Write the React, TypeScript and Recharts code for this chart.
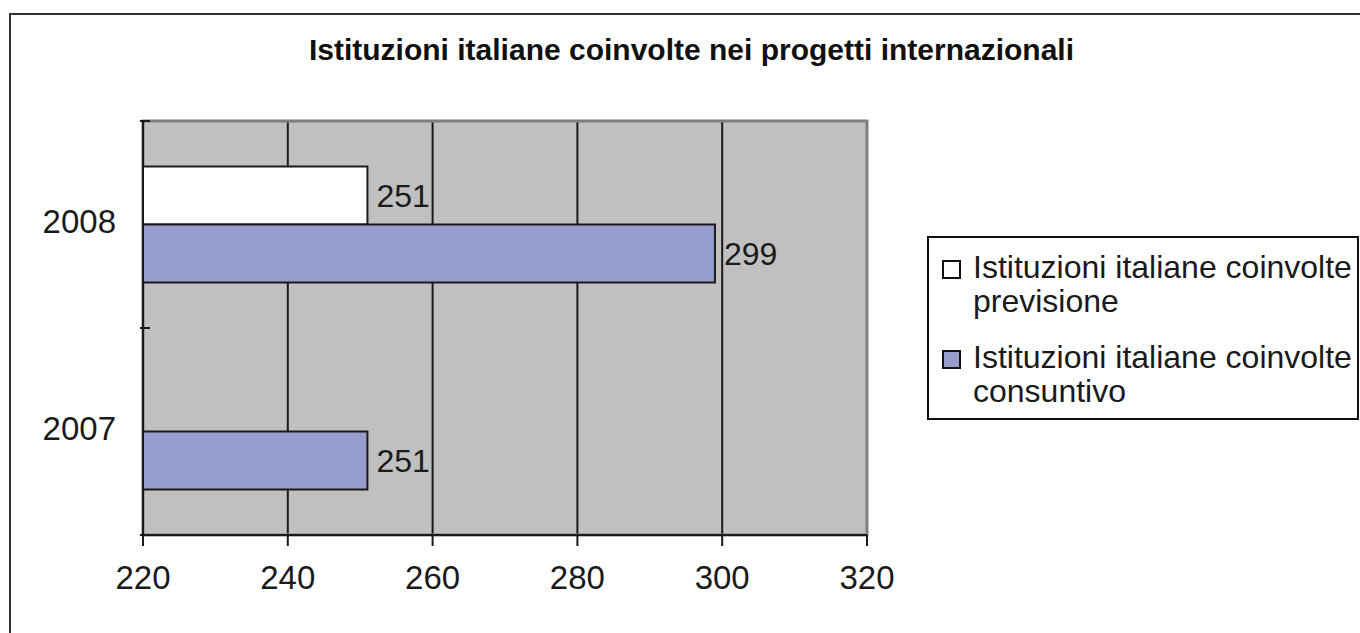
import React from "react";
import {
  BarChart,
  Bar,
  XAxis,
  YAxis,
  CartesianGrid,
  Legend,
  LabelList,
  ReferenceArea,
} from "recharts";

const ANNI = ["2008", "2007"];
const PREVISIONE = [251, null];
const CONSUNTIVO = [299, 251];
const X_TICKS = [220, 240, 260, 280, 300, 320];
const NOME_PREV = "Istituzioni italiane coinvolte previsione";
const NOME_CONS = "Istituzioni italiane coinvolte consuntivo";
const COL_PREV = "#ffffff";
const COL_CONS = "#969CCB";

const data = ANNI.map((anno, i) => ({
  anno,
  prev: PREVISIONE[i],
  cons: CONSUNTIVO[i],
}));

const legendItems = [
  { nome: NOME_PREV, colore: COL_PREV },
  { nome: NOME_CONS, colore: COL_CONS },
];

const FONT = "'Liberation Sans', Arial, sans-serif";
const INK = "#1a1a1a";
const BAND = 207;
const FS = 32;

function YTick(props: any) {
  const { x, y, payload, index } = props;
  const ax = x + 15;
  return (
    <g>
      <text
        x={x - 19}
        y={y - 3}
        textAnchor="end"
        dominantBaseline="central"
        fontSize={33}
        fontFamily={FONT}
        fill={INK}
      >
        {payload.value}
      </text>
      <line x1={ax - 10} x2={ax} y1={y - BAND / 2} y2={y - BAND / 2} stroke={INK} strokeWidth={2} />
      {index === ANNI.length - 1 && (
        <line x1={ax - 10} x2={ax} y1={y + BAND / 2} y2={y + BAND / 2} stroke={INK} strokeWidth={2} />
      )}
    </g>
  );
}

function LegendBox() {
  return (
    <div
      style={{
        border: "2px solid #111",
        width: 432,
        height: 184,
        boxSizing: "border-box",
        padding: "12px 0 0 13px",
        fontFamily: FONT,
        fontSize: FS,
        color: INK,
        background: "#fff",
      }}
    >
      {legendItems.map((it, i) => {
        const words = it.nome.split(" ");
        const last = words.pop();
        return (
          <div key={i} style={{ display: "flex", marginBottom: i === 0 ? 22 : 0 }}>
            <div
              style={{
                width: 15,
                height: 15,
                border: "2px solid #111",
                background: it.colore,
                marginTop: 10,
                marginRight: 12,
                flexShrink: 0,
              }}
            />
            <div style={{ lineHeight: "34px" }}>
              <div>{words.join(" ")}</div>
              <div>{last}</div>
            </div>
          </div>
        );
      })}
    </div>
  );
}

export default function App() {
  return (
    <div
      style={{
        position: "absolute",
        left: 0,
        top: 0,
        width: 1360,
        height: 633,
        background: "#fff",
        overflow: "hidden",
      }}
    >
      <div
        style={{
          position: "absolute",
          left: 9,
          top: 13,
          width: 1400,
          height: 700,
          borderLeft: "2px solid #333",
          borderTop: "2px solid #333",
        }}
      />
      <div
        style={{
          position: "absolute",
          left: 0,
          top: 33,
          width: 1383,
          textAlign: "center",
          fontFamily: FONT,
          fontWeight: "bold",
          fontSize: 30,
          color: "#111",
          whiteSpace: "nowrap",
        }}
      >
        Istituzioni italiane coinvolte nei progetti internazionali
      </div>
      <div style={{ position: "absolute", left: 0, top: 0 }}>
        <BarChart
          width={1360}
          height={633}
          data={data}
          layout="vertical"
          margin={{ top: 121, right: 61, bottom: 38, left: 13 }}
          barCategoryGap="22%"
          barGap={0}
        >
          <CartesianGrid
            horizontal={false}
            vertical={true}
            stroke={INK}
            strokeWidth={2}
            fill="#C0C0C0"
            fillOpacity={1}
          />
          <ReferenceArea
            x1={220}
            x2={320}
            fill="none"
            stroke="#7f7f7f"
            strokeWidth={3}
            ifOverflow="visible"
          />
          <XAxis
            type="number"
            domain={[220, 320]}
            ticks={X_TICKS}
            allowDataOverflow
            height={60}
            axisLine={{ stroke: INK, strokeWidth: 2 }}
            tickLine={{ stroke: INK, strokeWidth: 2 }}
            tickSize={11}
            tickMargin={20}
            tick={{ fontSize: 33, fontFamily: FONT, fill: INK }}
          />
          <YAxis
            type="category"
            dataKey="anno"
            width={130}
            axisLine={{ stroke: INK, strokeWidth: 2 }}
            tickLine={false}
            tick={<YTick />}
          />
          <Legend
            layout="horizontal"
            align="right"
            verticalAlign="middle"
            content={<LegendBox />}
            wrapperStyle={{ left: 927, top: 236, width: 432 }}
          />
          <Bar
            dataKey="prev"
            name={NOME_PREV}
            fill={COL_PREV}
            stroke={INK}
            strokeWidth={2}
            isAnimationActive={false}
          >
            <LabelList
              dataKey="prev"
              position="right"
              offset={9}
              fontSize={FS}
              fontFamily={FONT}
              fill={INK}
            />
          </Bar>
          <Bar
            dataKey="cons"
            name={NOME_CONS}
            fill={COL_CONS}
            stroke={INK}
            strokeWidth={2}
            isAnimationActive={false}
          >
            <LabelList
              dataKey="cons"
              position="right"
              offset={9}
              fontSize={FS}
              fontFamily={FONT}
              fill={INK}
            />
          </Bar>
        </BarChart>
      </div>
    </div>
  );
}
